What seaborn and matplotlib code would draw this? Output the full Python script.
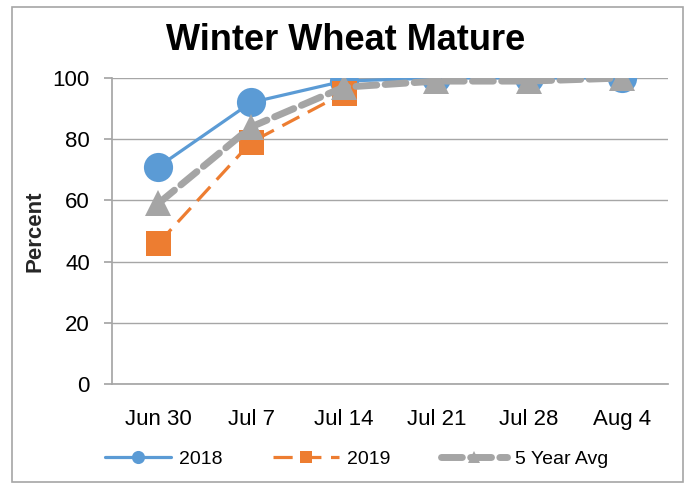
import pandas as pd
import matplotlib.pyplot as plt
import seaborn as sns
from matplotlib.patches import Rectangle

# Data
weeks = ["Jun 30", "Jul 7", "Jul 14", "Jul 21", "Jul 28", "Aug 4"]
pct_2018 = [71, 92, 99, 100, 100, 100]
pct_2019 = [46, 79, 95, None, None, None]
pct_5yr = [59, 84, 97, 99, 99, 100]

sns.set_theme(style="white")
plt.rcParams['font.family'] = ['Liberation Sans', 'DejaVu Sans']
plt.rcParams['text.color'] = 'black'
plt.rcParams['xtick.color'] = 'black'
plt.rcParams['ytick.color'] = 'black'

fig = plt.figure(figsize=(6.89, 4.84), dpi=100)
ax = fig.add_axes([0.1626, 0.2066, 0.8069, 0.6322])

x = list(range(len(weeks)))
df_2018 = pd.DataFrame({"x": x, "y": pct_2018})
df_2019 = pd.DataFrame({"x": x, "y": pct_2019}).dropna()
df_5yr = pd.DataFrame({"x": x, "y": pct_5yr})

sns.lineplot(data=df_2018, x="x", y="y", ax=ax, color="#5B9BD5", linewidth=2.3,
             marker="o", markersize=21, markeredgewidth=0, label="2018", zorder=3)
sns.lineplot(data=df_2019, x="x", y="y", ax=ax, color="#ED7D31", linewidth=2.3,
             marker="s", markersize=18, markeredgewidth=0, label="2019", zorder=4)
sns.lineplot(data=df_5yr, x="x", y="y", ax=ax, color="#A5A5A5", linewidth=5,
             marker="^", markersize=19, markeredgewidth=0, label="5 Year Avg", zorder=5)
ax.lines[1].set_dashes([6, 3])
ax.lines[2].set_dashes([3, 1.2])
ax.lines[2].set_dash_capstyle("round")

ax.set_xlim(-0.5, 5.5)
ax.set_ylim(0, 100)
ax.set_yticks([0, 20, 40, 60, 80, 100])
ax.set_xticks(x)
ax.set_xticklabels(weeks)
ax.grid(axis="y", color="#A6A6A6", linewidth=1)
ax.set_axisbelow(True)
for side in ["top", "right"]:
    ax.spines[side].set_visible(False)
ax.spines["left"].set_color("#A6A6A6")
ax.spines["bottom"].set_color("#A6A6A6")
ax.tick_params(axis="y", left=True, length=6, color="#A6A6A6", labelsize=16,
               labelcolor="black", pad=10)
ax.tick_params(axis="x", bottom=False, labelsize=16, labelcolor="black", pad=12)

ax.set_xlabel("")
ax.set_ylabel("Percent", fontsize=16, fontweight="bold", labelpad=5)
fig.text(0.502, 0.917, "Winter Wheat Mature", ha="center", va="center",
         fontsize=26, fontweight="bold")

leg = ax.legend(loc="upper center", bbox_to_anchor=(0.44, -0.16), ncol=3, frameon=False,
                fontsize=14, handlelength=3.4, columnspacing=2.6, handletextpad=0.4,
                markerscale=0.45)

fig.add_artist(Rectangle((0.017, 0.005), 0.975, 0.98, transform=fig.transFigure,
                         fill=False, edgecolor="#A6A6A6", linewidth=1.2))

fig.savefig("out.png", dpi=100)
